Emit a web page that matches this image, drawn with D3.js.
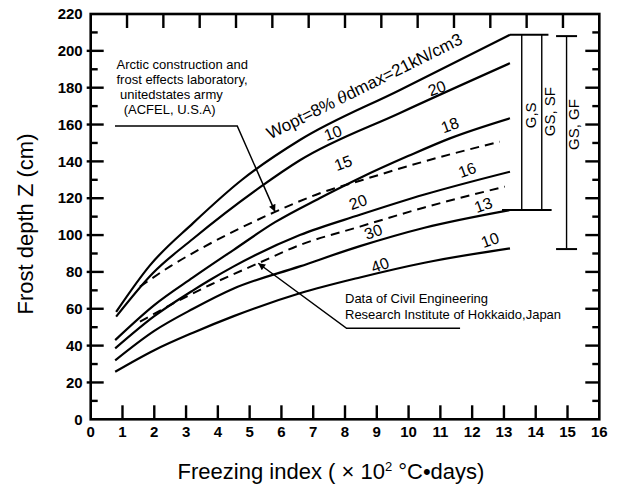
<!DOCTYPE html>
<html>
<head>
<meta charset="utf-8">
<script src="https://cdn.jsdelivr.net/npm/d3@7"></script>
<style>
  body { margin: 0; background: #fff; }
  svg { display: block; font-family: "Liberation Sans", Arial, Helvetica, sans-serif; }
</style>
</head>
<body>
<svg id="chart" width="623" height="489"></svg>
<script>
// freezing index (x100 degC.days) vs frost depth (cm)
const curveTop = [[0.8, 58.3], [1.87, 83.7], [3.22, 106.5], [4.75, 129.9], [6.58, 151.6], [9.73, 178.8], [13.19, 208.7]];
const curve10to20 = [[0.8, 55.7], [1.96, 79.4], [3.22, 98], [5.33, 126], [6.58, 140.6], [9.73, 166.3], [13.19, 193.3]];
const curve15to18 = [[0.77, 43], [2, 62], [3.22, 77], [4.5, 92], [5.8, 107], [7.2, 120], [8.47, 131], [10, 143], [11.3, 152.5], [13.19, 163.4]];
const acfelDashed = [[1.55, 72], [2.5, 83], [3.5, 93], [4.5, 102], [5.8, 112.6], [7.21, 122.7], [8.47, 129.5], [10.5, 140], [12.87, 150.7]];
const curve20to16 = [[0.77, 38.5], [2, 56], [3.22, 70], [3.75, 75.6], [4.5, 83], [6.58, 100], [8.47, 111], [10.5, 122], [13.19, 134.4]];
const hokkaidoDashed = [[1.55, 53], [2.5, 62], [3.75, 72.9], [5.27, 84.7], [6.58, 94.6], [8.47, 104.6], [10.5, 115], [13.03, 126.3]];
const curve30to13 = [[0.77, 32], [2, 48], [3.22, 60], [4.5, 71], [6.58, 83], [8.47, 94], [10.5, 104], [13.19, 113.6]];
const curve40to10 = [[0.77, 25.8], [2, 37.5], [3.22, 47], [4.5, 56], [6.58, 68.4], [8.47, 77], [10.5, 85], [13.19, 92.8]];

const solidCurves = [curveTop, curve10to20, curve15to18, curve20to16, curve30to13, curve40to10];
const dashedCurves = [acfelDashed, hokkaidoDashed];

// numbers written along the curves: [x, y, text]
const curveLabels = [[7.62, 155.4, "10"], [10.89, 179.7, "20"], [7.94, 139.1, "15"], [11.3, 159.7, "18"],
                     [11.84, 135.3, "16"], [8.41, 118.0, "20"], [12.35, 116.3, "13"], [8.89, 101.8, "30"],
                     [12.56, 97.3, "10"], [9.1, 83.8, "40"]];

// soil-group ranges on the right: [x, low, high, label]
const soilRanges = [[13.56, 113.6, 208.7, "G,S"], [14.19, 113.6, 208.7, "GS, SF"], [14.97, 92.8, 208.0, "GS, GF"]];

const xTicks = d3.range(0, 17, 1);
const yTicks = d3.range(0, 221, 20);
const yMinorTicks = d3.range(10, 220, 20);
const topTicks = d3.range(1, 14, 1);

const svg = d3.select("#chart");
const margin = { left: 90.7, right: 599.3, top: 14, bottom: 419.3 };

const x = d3.scaleLinear().domain([0, 16]).range([margin.left, margin.right]);
const y = d3.scaleLinear().domain([0, 220]).range([margin.bottom, margin.top]);
const xTop = d3.scaleLinear().domain([0, 14]).range([margin.left, margin.right]);

svg.append("defs").append("marker")
    .attr("id", "arrow")
    .attr("viewBox", "0 0 10 10")
    .attr("refX", 10).attr("refY", 5)
    .attr("markerWidth", 9).attr("markerHeight", 7)
    .attr("markerUnits", "userSpaceOnUse")
    .attr("orient", "auto")
  .append("path")
    .attr("d", "M0,0 L10,5 L0,10 Z")
    .attr("fill", "#000");

const line = d3.line()
    .x(d => x(d[0]))
    .y(d => y(d[1]))
    .curve(d3.curveMonotoneX);

svg.append("g").selectAll("path.solid")
  .data(solidCurves)
  .enter().append("path")
    .attr("class", "solid")
    .attr("d", line)
    .attr("fill", "none")
    .attr("stroke", "#000")
    .attr("stroke-width", 2.2);

svg.append("g").selectAll("path.dash")
  .data(dashedCurves)
  .enter().append("path")
    .attr("class", "dash")
    .attr("d", line)
    .attr("fill", "none")
    .attr("stroke", "#000")
    .attr("stroke-width", 2)
    .attr("stroke-dasharray", "9,6");

// numbers along the curves
svg.append("g").selectAll("text")
  .data(curveLabels)
  .enter().append("text")
    .attr("transform", d => `translate(${x(d[0])},${y(d[1])}) rotate(-20)`)
    .attr("text-anchor", "middle")
    .attr("dy", "0.35em")
    .attr("font-size", 16)
    .text(d => d[2]);

// Wopt label above top curve
const wopt = svg.append("text")
    .attr("transform", `translate(${x(8.69)},${y(178)}) rotate(-26.5)`)
    .attr("text-anchor", "middle")
    .attr("font-size", 17);
wopt.append("tspan").text("Wopt=8% ");
wopt.append("tspan").attr("font-style", "italic").attr("font-family", "'DejaVu Serif', serif").attr("font-size", 16).text("\u03B8");
wopt.append("tspan").text("dmax=21kN/cm3");

// range bars
const bars = svg.append("g").attr("stroke", "#000").attr("stroke-width", 1.4);
bars.selectAll("line.v")
  .data(soilRanges)
  .enter().append("line")
    .attr("x1", d => x(d[0])).attr("x2", d => x(d[0]))
    .attr("y1", d => y(d[1])).attr("y2", d => y(d[2]));
// caps
bars.append("line").attr("x1", x(13.19)).attr("x2", x(14.4)).attr("y1", y(208.7)).attr("y2", y(208.7)).attr("stroke-width", 2);
bars.append("line").attr("x1", x(12.94)).attr("x2", x(14.5)).attr("y1", y(113.6)).attr("y2", y(113.6)).attr("stroke-width", 2);
bars.append("line").attr("x1", x(14.64)).attr("x2", x(15.3)).attr("y1", y(208.0)).attr("y2", y(208.0)).attr("stroke-width", 2);
bars.append("line").attr("x1", x(14.64)).attr("x2", x(15.3)).attr("y1", y(92.4)).attr("y2", y(92.4)).attr("stroke-width", 2);

// label placement next to each bar: [center value, pixel offset]
const barText = [[165, 9], [167, 8], [160, 7]];
svg.append("g").selectAll("text")
  .data(soilRanges)
  .enter().append("text")
    .attr("transform", (d, i) => `translate(${x(d[0]) + barText[i][1]},${y(barText[i][0])}) rotate(-90)`)
    .attr("text-anchor", "middle")
    .attr("dy", "0.35em")
    .attr("font-size", 15)
    .text(d => d[3]);

// annotation: ACFEL
const acfelLines = ["Arctic construction and", "frost effects laboratory,", " unitedstates army", "  (ACFEL, U.S.A)"];
svg.append("g").selectAll("text")
  .data(acfelLines)
  .enter().append("text")
    .attr("x", 116.5)
    .attr("y", (d, i) => 69 + i * 15)
    .attr("font-size", 13)
    .attr("xml:space", "preserve")
    .style("white-space", "pre")
    .text(d => d);

svg.append("path")
    .attr("d", d3.line()([[x(0.764), y(159.2)], [x(4.61), y(159.2)], [x(5.8), y(112.7)]]))
    .attr("fill", "none").attr("stroke", "#000").attr("stroke-width", 1.5)
    .attr("marker-end", "url(#arrow)");

// annotation: Hokkaido
const hokLines = ["Data of Civil Engineering", "Research Institute of Hokkaido,Japan"];
svg.append("g").selectAll("text")
  .data(hokLines)
  .enter().append("text")
    .attr("x", 345)
    .attr("y", (d, i) => 303 + i * 16)
    .attr("font-size", 13)
    .text(d => d);

svg.append("path")
    .attr("d", d3.line()([[x(11.62), y(49.4)], [x(8.05), y(49.4)], [x(5.27), y(84.7)]]))
    .attr("fill", "none").attr("stroke", "#000").attr("stroke-width", 1.5)
    .attr("marker-end", "url(#arrow)");

// frame and ticks
const axes = svg.append("g").attr("stroke", "#000");
axes.append("rect")
    .attr("x", x(0)).attr("y", y(220))
    .attr("width", x(16) - x(0)).attr("height", y(0) - y(220))
    .attr("fill", "none").attr("stroke-width", 2.6);

axes.selectAll("line.bt")
  .data(xTicks.slice(1, -1))
  .enter().append("line")
    .attr("x1", d => x(d)).attr("x2", d => x(d))
    .attr("y1", y(0)).attr("y2", y(0) - 14)
    .attr("stroke-width", 2.4);

axes.selectAll("line.tt")
  .data(topTicks)
  .enter().append("line")
    .attr("x1", d => xTop(d)).attr("x2", d => xTop(d))
    .attr("y1", y(220)).attr("y2", y(220) + 14)
    .attr("stroke-width", 2.4);

axes.selectAll("line.lt")
  .data(yTicks.slice(1, -1))
  .enter().append("line")
    .attr("x1", x(0) - 4).attr("x2", x(0) + 13)
    .attr("y1", d => y(d)).attr("y2", d => y(d))
    .attr("stroke-width", 2.4);

axes.selectAll("line.lm")
  .data(yMinorTicks)
  .enter().append("line")
    .attr("x1", x(0)).attr("x2", x(0) + 7)
    .attr("y1", d => y(d)).attr("y2", d => y(d))
    .attr("stroke-width", 2.4);

axes.selectAll("line.rt")
  .data(yTicks.slice(1, -1))
  .enter().append("line")
    .attr("x1", x(16) - 14).attr("x2", x(16))
    .attr("y1", d => y(d)).attr("y2", d => y(d))
    .attr("stroke-width", 2.4);

axes.selectAll("line.rm")
  .data(yMinorTicks)
  .enter().append("line")
    .attr("x1", x(16) - 7).attr("x2", x(16))
    .attr("y1", d => y(d)).attr("y2", d => y(d))
    .attr("stroke-width", 2.4);

// tick labels
svg.append("g").selectAll("text")
  .data(xTicks)
  .enter().append("text")
    .attr("x", d => x(d))
    .attr("y", y(0) + 18)
    .attr("text-anchor", "middle")
    .attr("font-size", 15)
    .attr("font-weight", "bold")
    .text(d => d);

svg.append("g").selectAll("text")
  .data(yTicks)
  .enter().append("text")
    .attr("x", x(0) - 8)
    .attr("y", d => y(d))
    .attr("dy", "0.35em")
    .attr("text-anchor", "end")
    .attr("font-size", 15)
    .attr("font-weight", "bold")
    .text(d => d);

// axis titles
svg.append("text")
    .attr("transform", "translate(33,224) rotate(-90)")
    .attr("text-anchor", "middle")
    .attr("font-size", 22)
    .text("Frost depth Z (cm)");

const xt = svg.append("text")
    .attr("x", 331).attr("y", 479)
    .attr("text-anchor", "middle")
    .attr("font-size", 22);
xt.append("tspan").text("Freezing index ( \u00D7 10");
xt.append("tspan").attr("font-size", 13).attr("dy", -8).text("2");
xt.append("tspan").attr("dy", 8).text(" \u00B0C\u2022days)");
</script>
</body>
</html>
